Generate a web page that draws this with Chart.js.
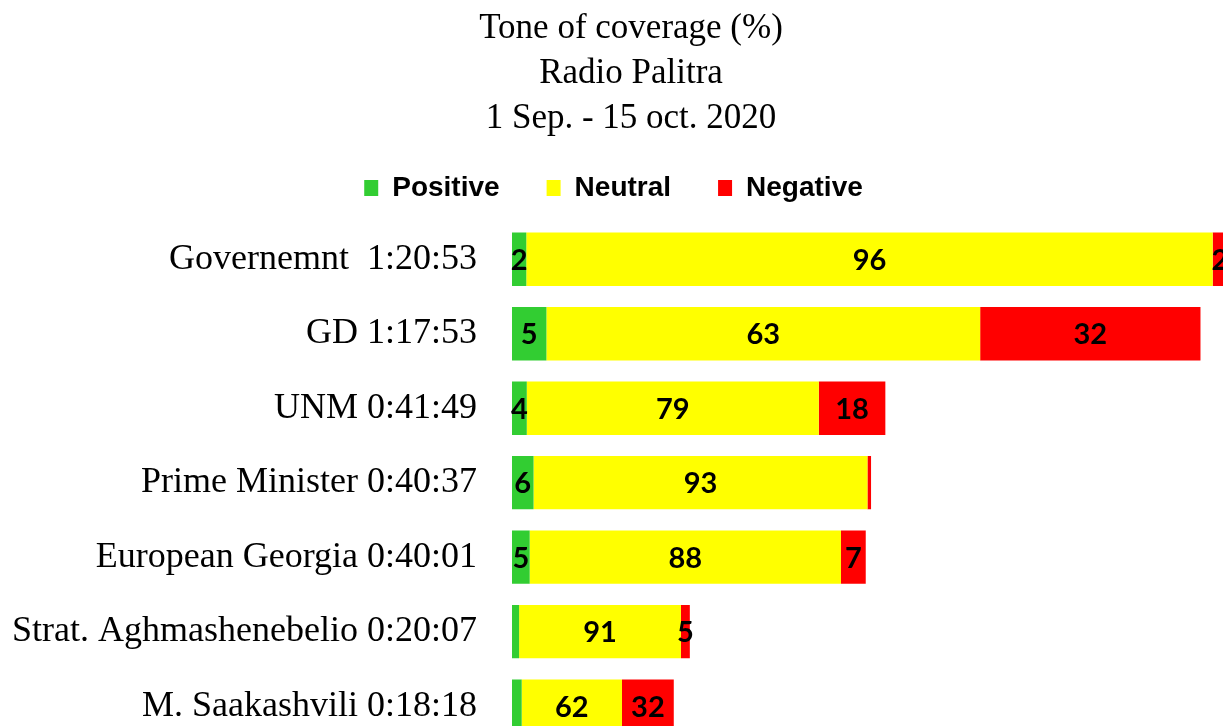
<!DOCTYPE html>
<html>
<head>
<meta charset="utf-8">
<script src="https://cdn.jsdelivr.net/npm/chart.js@4"></script>
<style>
    html, body { margin: 0; padding: 0; background: #fff; overflow: hidden; }
    canvas { display: block; }
</style>
</head>
<body>
<canvas id="chart" width="1230" height="800"></canvas>
<script>
// categories with their total airtime
const categories = ['Governemnt  1:20:53', 'GD 1:17:53', 'UNM 0:41:49', 'Prime Minister 0:40:37',
    'European Georgia 0:40:01', 'Strat. Aghmashenebelio 0:20:07', 'M. Saakashvili 0:18:18'];
const durations = [4853, 4673, 2509, 2437, 2401, 1207, 1098]; // seconds

// tone shares (%)
const positive = [2, 5, 4, 6, 5, 4, 6];
const neutral = [96, 63, 79, 93, 88, 91, 62];
const negative = [2, 32, 18, 1, 7, 5, 32];

// labels not printed in the original
const unlabeled = { Positive: [5, 6], Neutral: [], Negative: [3] };

const titleLines = ['Tone of coverage (%)', 'Radio Palitra', '1 Sep. - 15 oct. 2020'];

function toSeconds(shares) {
    return shares.map((p, i) => durations[i] * p / 100);
}

const series = [
    { label: 'Positive', shares: positive, color: '#32CD32' },
    { label: 'Neutral', shares: neutral, color: '#FFFF00' },
    { label: 'Negative', shares: negative, color: '#FF0000' }
];

const titlePlugin = {
    id: 'titleLines',
    beforeInit(chart) {
        // a bit of room between legend and bars
        const fit = chart.legend.fit;
        chart.legend.fit = function() {
            fit.call(this);
            this.height += 10;
        };
    },
    afterDraw(chart) {
        const ctx = chart.ctx;
        ctx.save();
        ctx.fillStyle = '#000';
        ctx.font = '35px "Liberation Serif"';
        ctx.textAlign = 'center';
        ctx.textBaseline = 'middle';
        titleLines.forEach((t, i) => ctx.fillText(t, 631, 29 + i * 45));
        ctx.restore();
    }
};

const valueLabels = {
    id: 'valueLabels',
    afterDatasetsDraw(chart) {
        const ctx = chart.ctx;
        ctx.save();
        ctx.fillStyle = '#000';
        ctx.font = 'bold 29px Lato';
        ctx.textAlign = 'center';
        ctx.textBaseline = 'middle';
        chart.data.datasets.forEach((ds, di) => {
            const meta = chart.getDatasetMeta(di);
            meta.data.forEach((bar, i) => {
                if (unlabeled[ds.label].includes(i)) return;
                ctx.fillText(String(ds.shares[i]), (bar.x + bar.base) / 2, bar.y + 1);
            });
        });
        ctx.restore();
    }
};

const ctx = document.getElementById('chart').getContext('2d');
new Chart(ctx, {
    type: 'bar',
    data: {
        labels: categories,
        datasets: series.map(s => ({
            label: s.label,
            shares: s.shares,
            data: toSeconds(s.shares),
            backgroundColor: s.color,
            borderWidth: 0,
            categoryPercentage: 1,
            barPercentage: 0.716
        }))
    },
    options: {
        indexAxis: 'y',
        responsive: false,
        animation: false,
        layout: { padding: { top: 127, right: 3, bottom: 0, left: 0 } },
        plugins: {
            title: { display: false },
            tooltip: { enabled: false },
            legend: {
                position: 'top',
                labels: {
                    color: '#000',
                    font: { family: '"Liberation Sans"', size: 28, weight: 'bold' },
                    boxWidth: 14,
                    boxHeight: 16,
                    padding: 47
                }
            }
        },
        scales: {
            x: {
                stacked: true,
                display: false,
                min: 0,
                max: durations[0]
            },
            y: {
                stacked: true,
                grid: { display: false, drawTicks: false },
                border: { display: false },
                ticks: {
                    color: '#000',
                    padding: 35,
                    font: { family: '"Liberation Serif"', size: 36 }
                },
                afterFit(scale) { scale.width = 512; }
            }
        }
    },
    plugins: [titlePlugin, valueLabels]
});
</script>
</body>
</html>
